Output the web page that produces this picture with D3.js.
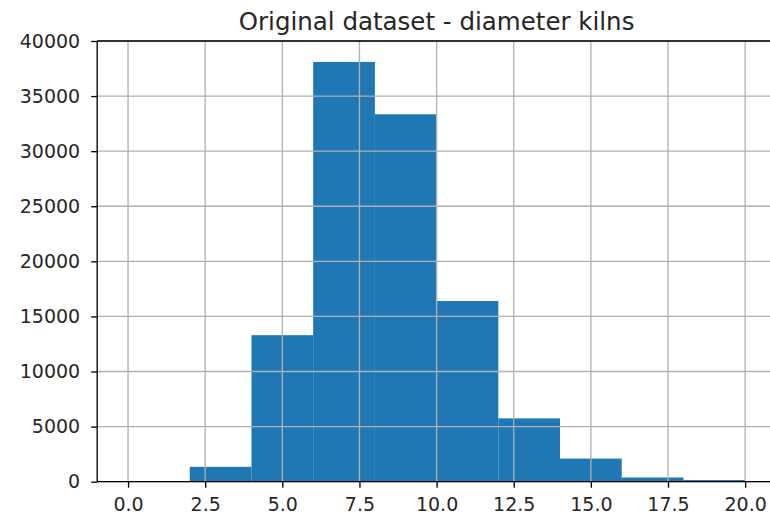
<!DOCTYPE html>
<html>
<head>
<meta charset="utf-8">
<script src="https://cdn.jsdelivr.net/npm/d3@7"></script>
<style>
  html, body { margin: 0; padding: 0; background: #fff; }
  svg { display: block; }
  text { font-family: "DejaVu Sans", sans-serif; }
</style>
</head>
<body>
<svg id="chart" width="770" height="518"></svg>
<script>
// ---- data ----
const title = "Original dataset - diameter kilns";
const binEdges = [0, 2, 4, 6, 8, 10, 12, 14, 16, 18, 20];
const counts = [0, 1350, 13300, 38100, 33350, 16400, 5750, 2100, 380, 150];
const xTicks = [0, 2.5, 5, 7.5, 10, 12.5, 15, 17.5, 20];
const yTicks = [0, 5000, 10000, 15000, 20000, 25000, 30000, 35000, 40000];

// ---- layout ----
const svg = d3.select("#chart");
const mLeft = 97.2, mRight = 776, mTop = 41, mBottom = 481.7;

const x = d3.scaleLinear().domain([-1, 21]).range([mLeft, mRight]);
const y = d3.scaleLinear().domain([0, 40000]).range([mBottom, mTop]);

const bins = counts.map((c, i) => ({ x0: binEdges[i], x1: binEdges[i + 1], c }));

// bars
svg.append("g").selectAll("rect").data(bins).join("rect")
  .attr("x", d => x(d.x0))
  .attr("width", d => x(d.x1) - x(d.x0))
  .attr("y", d => y(d.c))
  .attr("height", d => y(0) - y(d.c))
  .attr("fill", "#1f77b4");

// grid (drawn above bars, as in the reference)
const grid = svg.append("g").attr("stroke", "#b0b0b0").attr("stroke-width", 1.33);
grid.selectAll("line.gx").data(xTicks).join("line")
  .attr("class", "gx")
  .attr("x1", d => x(d)).attr("x2", d => x(d))
  .attr("y1", mTop).attr("y2", mBottom);
grid.selectAll("line.gy").data(yTicks).join("line")
  .attr("class", "gy")
  .attr("x1", mLeft).attr("x2", mRight)
  .attr("y1", d => y(d)).attr("y2", d => y(d));

// axes
const xAxis = d3.axisBottom(x).tickValues(xTicks).tickFormat(d3.format(".1f"))
  .tickSize(6).tickPadding(10);
const yAxis = d3.axisLeft(y).tickValues(yTicks).tickFormat(d => String(d))
  .tickSize(6).tickPadding(11);

const gx = svg.append("g").attr("transform", `translate(0,${mBottom})`).call(xAxis);
const gy = svg.append("g").attr("transform", `translate(${mLeft},0)`).call(yAxis);

[gx, gy].forEach(g => {
  g.select(".domain").remove();
  g.selectAll(".tick line").attr("stroke", "#000").attr("stroke-width", 1.33);
  g.selectAll(".tick text").attr("fill", "#262626")
    .style("font-family", "'DejaVu Sans', sans-serif").style("font-size", "19px");
});

// spines
const spines = svg.append("g").attr("stroke", "#000").attr("stroke-width", 1.33).attr("fill", "none");
spines.append("line").attr("x1", mLeft).attr("x2", mLeft).attr("y1", mTop).attr("y2", mBottom);
spines.append("line").attr("x1", mLeft).attr("x2", mRight).attr("y1", mBottom).attr("y2", mBottom);
spines.append("line").attr("x1", mLeft).attr("x2", mRight).attr("y1", mTop).attr("y2", mTop);
spines.append("line").attr("x1", mRight).attr("x2", mRight).attr("y1", mTop).attr("y2", mBottom);

// title
svg.append("text")
  .attr("x", (mLeft + mRight) / 2)
  .attr("y", 30)
  .attr("text-anchor", "middle")
  .attr("fill", "#262626")
  .style("font-size", "24.5px")
  .text(title);
</script>
</body>
</html>
